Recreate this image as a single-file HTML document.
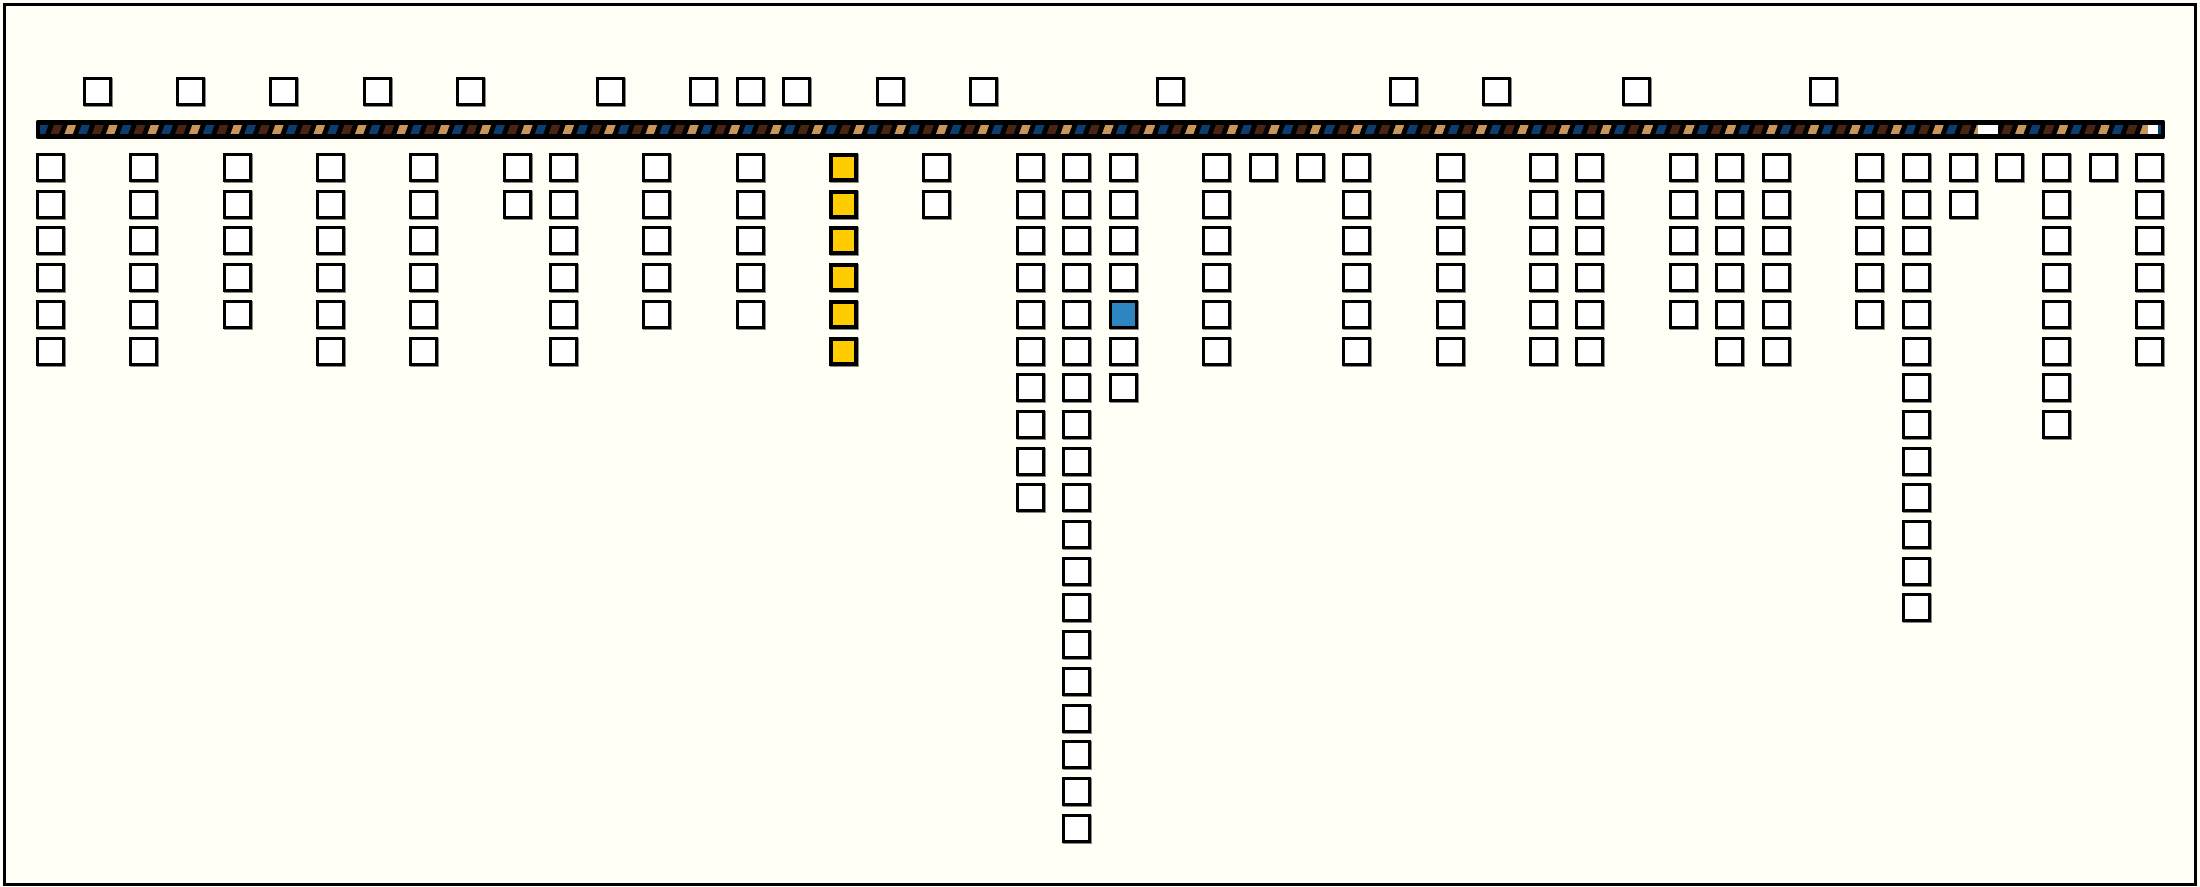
<!DOCTYPE html>
<html><head><meta charset="utf-8"><style>
html,body{margin:0;padding:0;}
body{width:2200px;height:887px;background:#fffff5;position:relative;overflow:hidden;}
#frame{position:absolute;left:3px;top:3px;width:2188px;height:877px;border:3px solid #000;}
.b{position:absolute;width:23px;height:23px;border:3px solid #000;background:#fff;box-shadow:1px 1px 0 #888;}
.y{background:#ffcc00;border-width:4px;width:21px;height:21px;}
.bl{background:#2e86c1;}
#bar{position:absolute;left:36px;top:120px;width:2129px;height:19px;background:#000;border-radius:2px;}
#stripe{position:absolute;left:4px;top:5px;right:4px;height:9px;
background:repeating-linear-gradient(110deg,#0b3e6e 0 8px,#000 8px 13px,#4a2412 13px 21px,#000 21px 26px,#c8965a 26px 34px,#000 34px 39px);}
.w{position:absolute;top:5px;height:9px;background:#fff;}
</style></head><body>
<div id="frame"></div>
<div id="bar"><div id="stripe"></div><div class="w" style="left:1942px;width:20px"></div><div class="w" style="left:2112px;width:10px"></div></div>
<div id="c"></div>
<script>
(function(){
var c=document.getElementById('c'),h='';
function X(i){return Math.round(36+46.65*i);}
var tops=[1,3,5,7,9,12,14,15,16,18,20,24,29,31,34,38];
tops.forEach(function(i){h+='<div class="b" style="left:'+X(i)+'px;top:77px"></div>';});
var cols=[[0,6],[2,6],[4,5],[6,6],[8,6],[10,2],[11,6],[13,5],[15,5],[17,6],[19,2],[21,10],[22,19],[23,7],[25,6],[26,1],[27,1],[28,6],[30,6],[32,6],[33,6],[35,5],[36,6],[37,6],[39,5],[40,13],[41,2],[42,1],[43,8],[44,1],[45,6]];
cols.forEach(function(p){for(var r=0;r<p[1];r++){var cl='b';if(p[0]==17)cl+=' y';if(p[0]==23&&r==4)cl+=' bl';
h+='<div class="'+cl+'" style="left:'+X(p[0])+'px;top:'+Math.round(153+36.7*r)+'px"></div>';}});
c.innerHTML=h;
})();
</script>
</body></html>
